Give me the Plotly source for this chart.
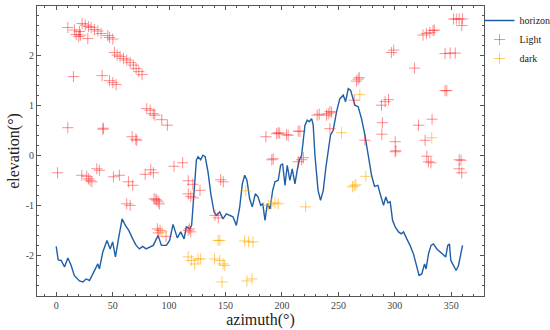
import plotly.graph_objects as go

horizon_az = [0, 1.8, 4.4, 7.4, 10.3, 13.3, 16, 20.6, 23.6, 26.5, 29.5, 32.5, 36.9, 38.3, 41.3, 45, 47.8, 50, 52.5,
              55.5, 58.4, 61.3, 64.3, 67.8, 70.8, 73.7, 76.7, 79.6, 82.6, 86, 90.3, 93.2, 97.6, 100.5, 103.5, 107.3,
              110.3, 113.3, 115.3, 118.3, 120, 121.2, 122.8, 124.2, 125.7, 128, 130, 132, 134.5, 137, 139.8, 141.9,
              144.9, 147.8, 150.7, 153.7, 156.6, 159.6, 162.6, 164.9, 167, 169, 171.4, 173.7, 176.4, 178.8, 181.2,
              183, 185, 187, 189.4, 191.8, 193.8, 196.7, 198.8, 200.6, 202.7, 204.7, 207, 209.1, 211.5, 213.5,
              215.3, 217.4, 220.4, 222.4, 224.2, 226.3, 227.7, 229.2, 232, 234.2, 236.6, 239, 241, 243, 245.4,
              248.4, 251.3, 254.3, 256.4, 258.7, 260.8, 262.6, 264.6, 267.5, 270.5, 273.5, 276.4, 279.4, 282, 285,
              287, 290, 292, 293.8, 295.9, 298, 300.3, 303.3, 305.6, 307.7, 310.6, 313.5, 316.5, 319.5, 321.5,
              323.9, 326.3, 327.7, 329.8, 332.1, 334.2, 337.2, 340.1, 343.1, 345.1, 346.9, 348.4, 349.6, 351.9,
              354.3, 356.4, 358.7, 360]
horizon_el = [-1.82, -2.09, -2.1, -2.23, -2.05, -2.2, -2.4, -2.51, -2.53, -2.47, -2.5, -2.37, -2.17, -2.27, -1.93,
              -1.7, -1.87, -1.73, -2.03, -1.63, -1.27, -1.4, -1.5, -1.67, -1.8, -1.87, -1.82, -1.87, -1.83, -1.8,
              -1.6, -1.8, -1.8, -1.7, -1.38, -1.65, -1.53, -1.67, -1.43, -1.47, -1.4, -0.97, -0.5, -0.1, -0.03,
              -0.09, 0, -0.03, -0.33, -0.77, -1.13, -1.2, -1.13, -1.27, -1.17, -1.2, -1.23, -1.4, -1.03, -0.57,
              -0.4, -0.5, -0.87, -1.03, -0.77, -0.83, -1.0, -0.97, -1.3, -0.97, -1.07, -0.7, -0.53, -0.5, -0.2,
              -0.17, -0.6, -0.2, -0.5, -0.27, -0.57, -0.3, -0.1, 0, 0.6, 0.7, 0.67, 0.73, 0.6, 0.0, -0.7, -0.9,
              -0.7, -0.23, 0.1, 0.4, 0.5, 0.87, 1.13, 1.2, 1.07, 1.33, 1.3, 1.15, 1.0, 0.97, 0.73, 0.4, 0, -0.4,
              -0.62, -0.6, -0.77, -1.0, -0.83, -0.95, -0.93, -1.3, -1.43, -1.53, -1.57, -1.53, -1.67, -1.8, -1.97,
              -2.2, -2.4, -2.37, -2.17, -2.27, -1.97, -1.8, -1.77, -1.87, -1.93, -2.0, -2.03, -1.8, -1.77, -2.1,
              -2.2, -2.3, -2.2, -1.97, -1.8]

light_az = [10.3, 16.2, 17.7, 20.6, 21.5, 20, 23, 25.7, 28.6, 31, 33.9, 36.9, 39.8, 45.7, 47.2, 50.2, 28,
            51.6, 54, 56.6, 59.6, 62.5, 65.5, 68.4, 70.8, 73.2, 76.1,
            15.3, 40.7, 47.2, 50.2, 53.1,
            80.2, 83.2, 86, 87.3, 93.5, 98.5,
            10.3, 41.3, 41.8, 67.3, 71.4, 70.5,
            1.2, 22.7, 27.1, 28.6, 30, 31.6, 36, 38.3, 50.7, 56, 64, 67.8, 62.5, 65.5, 78.8, 83.8, 86.1, 86.7,
            88.3, 89.1, 90.5, 91.4, 89.6, 92, 90.5, 97.3, 104.4, 112, 117, 121, 117, 119.2, 121.5, 127.4, 117,
            119.2, 118, 140.7, 143.6, 145.7, 148,
            185.8, 195.3, 196.7, 198, 204, 205.5, 214.4, 216, 192.3, 191, 214.4, 217.4, 219,
            231.2, 233, 239.5, 241, 242.5, 244, 242.5, 264, 266, 267.5, 268.5, 273.5,
            288.2, 291.4, 294.4, 289, 288.5, 300.3, 300.9, 300.3, 297, 299, 317.5, 321, 326.8, 333, 328.3, 329.8,
            332, 325, 328, 331, 333.9, 335, 344.5, 349, 353.5, 344.5, 346, 352, 354.5, 357, 360, 359.3, 357,
            358.7, 357, 359.3]
light_el = [2.55, 2.5, 2.41, 2.47, 2.4, 2.37, 2.63, 2.6, 2.57, 2.55, 2.51, 2.48, 2.43, 2.39, 2.35, 2.32, 2.33,
            2.05, 2.0, 1.97, 1.93, 1.9, 1.85, 1.8, 1.73, 1.67, 1.61,
            1.57, 1.59, 1.49, 1.45, 1.41,
            0.93, 0.9, 0.83, 0.8, 0.71, 0.6,
            0.55, 0.52, 0.54, 0.37, 0.3, 0.32,
            -0.35, -0.4, -0.42, -0.47, -0.5, -0.53, -0.27, -0.3, -0.43, -0.4, -0.53, -0.6, -0.97, -1.0, -0.38,
            -0.29, -0.35, -0.87, -0.88, -0.9, -0.93, -0.97, -1.47, -1.5, -1.55, -1.62, -0.22, -0.15, -0.51,
            -0.58, -0.77, -0.82, -0.85, -0.7, -1.5, -1.53, -1.47, -1.2, -1.25, -0.49, -0.53,
            0.37, 0.43, 0.45, 0.44, 0.41, 0.4, 0.48, 0.48, -0.07, -0.09, -0.13, -0.09, -0.05,
            0.8, 0.82, 0.8, 0.83, 0.87, 0.86, 0.53, 1.1, 1.48, 1.52, 1.55, 0.3,
            1.0, 1.07, 1.11, 0.65, 0.42, 0.27, 0.09, 0.07, 2.05, 2.1, 1.74, 0.6, 0.3, 0.72, -0.02, -0.13,
            -0.15, 2.4, 2.43, 2.45, 2.49, 2.5, 2.03, 2.04, 2.04, 1.29, 1.29, 2.72, 2.72, 2.72, 2.72, 2.59, -0.09,
            -0.1, -0.27, -0.35]

dark_az = [93.8, 117, 119.8, 122.7, 125.7, 128, 140.4, 144.9, 147.8, 149.3, 143.4, 145, 146.9, 167, 170.5, 174.3,
           169, 173.5, 167.9, 188, 190.9, 193.8, 196.7, 221, 262.5, 265.5, 264, 274.3, 269, 252.8, 332.7]
dark_el = [-1.53, -2.03, -2.1, -2.17, -2.07, -2.07, -2.07, -2.1, -2.17, -2.2, -1.7, -1.7, -2.53, -1.71, -1.73,
           -1.73, -2.51, -2.47, -0.71, -1.0, -0.97, -0.95, -0.97, -1.03, -0.63, -0.59, -0.61, -0.42, 1.21, 0.45,
           0.35]

x_ticks = [0, 50, 100, 150, 200, 250, 300, 350]
y_ticks = [-2, -1, 0, 1, 2]

SERIF = "Liberation Serif, DejaVu Serif, serif"

fig = go.Figure()
fig.add_trace(go.Scatter(x=horizon_az, y=horizon_el, mode="lines", name="horizon",
                         line=dict(color="#1f5fa6", width=1.4)))
fig.add_trace(go.Scatter(x=light_az, y=light_el, mode="markers", name="Light",
                         marker=dict(symbol="cross-thin", size=8, color="rgba(255,30,30,0.5)",
                                     line=dict(color="rgba(255,30,30,0.5)", width=1))))
fig.add_trace(go.Scatter(x=dark_az, y=dark_el, mode="markers", name="dark",
                         marker=dict(symbol="cross-thin", size=8, color="rgba(255,170,0,0.6)",
                                     line=dict(color="rgba(255,170,0,0.6)", width=1))))

axis_common = dict(showline=True, linecolor="#555", linewidth=1, mirror="allticks", ticks="inside",
                   ticklen=4, tickcolor="#555", showgrid=False, zeroline=False, automargin=False,
                   tickfont=dict(family=SERIF, size=10, color="#444"))

fig.update_layout(
    width=550, height=330,
    margin=dict(l=37, r=66, t=6, b=34, autoexpand=False),
    paper_bgcolor="white", plot_bgcolor="white",
    font=dict(family=SERIF, color="#222"),
    xaxis=dict(range=[-17, 379], tickvals=x_ticks, ticktext=[str(v) for v in x_ticks],
               minor=dict(dtick=10, tick0=0, ticks="inside", ticklen=2, tickcolor="#555"),
               title=dict(text="azimuth(°)", font=dict(family=SERIF, size=16, color="#222"), standoff=0),
               **axis_common),
    yaxis=dict(range=[-2.81, 2.98], tickvals=y_ticks, ticktext=[str(v) for v in y_ticks],
               minor=dict(dtick=0.2, tick0=0, ticks="inside", ticklen=2, tickcolor="#555"),
               title=dict(text="elevation(°)", font=dict(family=SERIF, size=16, color="#222"), standoff=2),
               **axis_common),
    legend=dict(x=0.99, y=1.0, xanchor="left", yanchor="top", bgcolor="rgba(0,0,0,0)",
                font=dict(family=SERIF, size=10, color="#222"), tracegroupgap=0, itemwidth=30),
    showlegend=True,
)

fig.write_html("out.html", config={"displayModeBar": False},
               post_script="document.body.style.margin='0';document.body.style.padding='0';")
